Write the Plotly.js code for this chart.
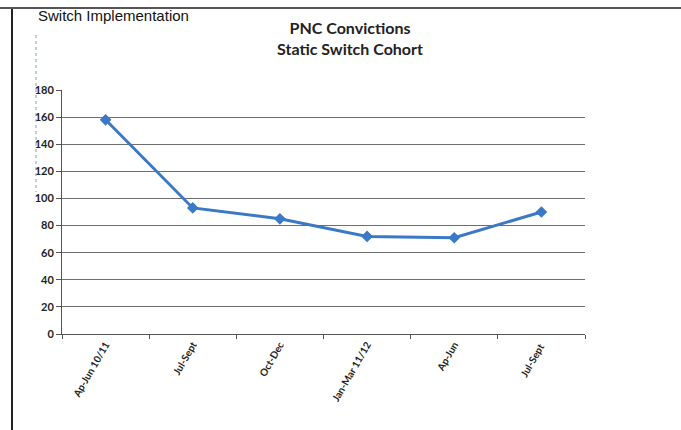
<!DOCTYPE html>
<html>
<head>
<meta charset="utf-8">
<script src="https://cdn.plot.ly/plotly-3.0.1.min.js"></script>
<style>html,body{margin:0;padding:0;background:#fff;}#chart{width:681px;height:430px;}</style>
</head>
<body>
<div id="chart"></div>
<script>
const categories = ["Ap-Jun 10/11", "Jul-Sept", "Oct-Dec", "Jan-Mar 11/12", "Ap-Jun", "Jul-Sept "];
const convictions = [158, 93, 85, 72, 71, 90];
const yTicks = [0, 20, 40, 60, 80, 100, 120, 140, 160, 180];

const L = 62, R = 585, T = 90, B = 334;
const px = x => (x - L) / (R - L);
const py = y => (B - y) / (B - T);

const trace = {
  x: categories,
  y: convictions,
  type: "scatter",
  mode: "lines+markers",
  line: {color: "#3b78c6", width: 3},
  marker: {symbol: "diamond", size: 9, color: "#3b78c6"},
  hoverinfo: "skip"
};

const layout = {
  width: 681, height: 430,
  margin: {l: L, r: 681 - R, t: T, b: 430 - B},
  paper_bgcolor: "#fff", plot_bgcolor: "#fff",
  showlegend: false,
  title: {
    text: "<b>PNC Convictions</b><br><b>Static Switch Cohort</b>",
    x: 350 / 681, xanchor: "center",
    y: 1 - 34 / 430, yanchor: "top",
    font: {family: "Lato, 'Open Sans', sans-serif", size: 16, color: "#222"}
  },
  xaxis: {
    type: "category",
    range: [-0.5, categories.length - 0.5],
    autorange: false,
    tickson: "boundaries",
    ticks: "outside", ticklen: 4, tickcolor: "#555",
    showline: true, linecolor: "#555", linewidth: 1,
    showgrid: false, zeroline: false,
    tickangle: -60,
    tickfont: {family: "Lato, 'Open Sans', sans-serif", size: 10, color: "#222", weight: "bold"}
  },
  yaxis: {
    range: [0, 180],
    autorange: false,
    tickvals: yTicks,
    ticks: "outside", ticklen: 5, tickcolor: "#555",
    showline: true, linecolor: "#555", linewidth: 1,
    showgrid: true, gridcolor: "#6e6e6e", gridwidth: 1,
    zeroline: false,
    tickfont: {family: "Lato, 'Open Sans', sans-serif", size: 11, color: "#222", weight: "bold"}
  },
  shapes: [
    {type: "line", xref: "paper", yref: "paper", x0: px(12), x1: px(12), y0: py(7), y1: py(432),
     line: {color: "#222", width: 2}},
    {type: "line", xref: "paper", yref: "paper", x0: px(0), x1: px(681), y0: py(8), y1: py(8),
     line: {color: "#555", width: 2}},
    {type: "line", xref: "paper", yref: "paper", x0: px(36), x1: px(36), y0: py(35), y1: py(192),
     line: {color: "#7f9ed0", width: 1, dash: "dot"}}
  ],
  annotations: [
    {text: "Switch Implementation", xref: "paper", yref: "paper", x: px(36), y: py(5),
     xanchor: "left", yanchor: "top", showarrow: false,
     font: {family: "'Liberation Sans', Arial, sans-serif", size: 15, color: "#111"}}
  ]
};

Plotly.newPlot("chart", [trace], layout, {staticPlot: true, displayModeBar: false});
</script>
</body>
</html>
